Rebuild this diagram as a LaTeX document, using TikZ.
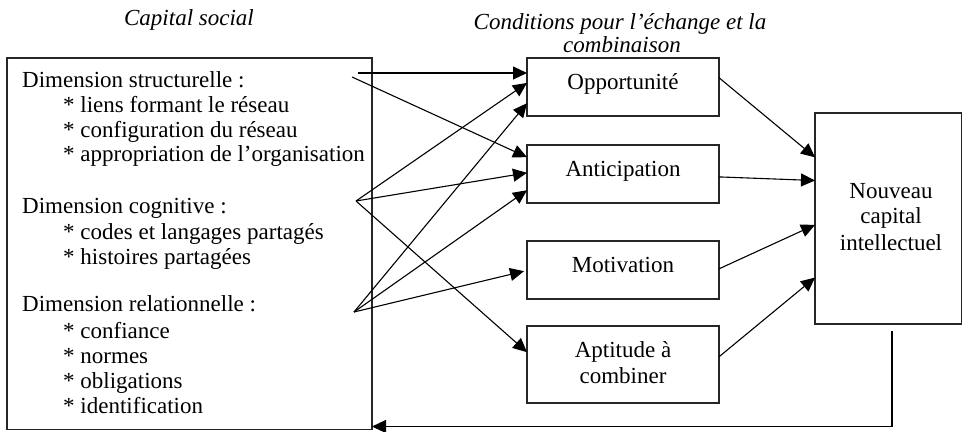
\documentclass[tikz,border=0pt]{standalone}
\usepackage{fontspec}
\setmainfont{Liberation Serif}
\usetikzlibrary{arrows.meta,calc}
\begin{document}
\begin{tikzpicture}[x=1pt,y=-1pt,
  box/.style={draw=black!85,line width=1.1pt,rectangle,inner sep=0pt,outer sep=0pt},
  lbl/.style={inner sep=0pt,font=\fontsize{23}{25}\selectfont},
  ttl/.style={inner sep=0pt,font=\fontsize{23}{25}\selectfont\itshape},
  arr/.style={line width=1.1pt,-{Triangle[length=14pt,width=13pt]}}]
\useasboundingbox (0,0) rectangle (963,431);
% titles
\node[ttl,anchor=base] (t1) at (189,25) {Capital social};
\node[ttl,anchor=base] (t2) at (620,29) {Conditions pour l’échange et la};
\node[ttl,anchor=base] (t3) at (622,52) {combinaison};
% left box
\node[box,anchor=north west,minimum width=365pt,minimum height=371.5pt] (left) at (7,58) {};
\node[lbl,anchor=base west] (a1) at (22,87) {Dimension structurelle :};
\node[lbl,anchor=base west] (a2) at (63,112) {* liens formant le réseau};
\node[lbl,anchor=base west] (a3) at (63,137) {* configuration du réseau};
\node[lbl,anchor=base west] (a4) at (63,161) {* appropriation de l’organisation};
\node[lbl,anchor=base west] (b1) at (22,213) {Dimension cognitive :};
\node[lbl,anchor=base west] (b2) at (63,239) {* codes et langages partagés};
\node[lbl,anchor=base west] (b3) at (63,264) {* histoires partagées};
\node[lbl,anchor=base west] (c1) at (22,311) {Dimension relationnelle :};
\node[lbl,anchor=base west] (c2) at (63,338) {* confiance};
\node[lbl,anchor=base west] (c3) at (63,363) {* normes};
\node[lbl,anchor=base west] (c4) at (63,388) {* obligations};
\node[lbl,anchor=base west] (c5) at (63,413) {* identification};
% middle boxes
\node[box,anchor=north west,minimum width=192pt,minimum height=58pt] (opp) at (527,58) {};
\node[box,anchor=north west,minimum width=192pt,minimum height=58pt] (ant) at (527,145) {};
\node[box,anchor=north west,minimum width=192pt,minimum height=58pt] (mot) at (527,241) {};
\node[box,anchor=north west,minimum width=192pt,minimum height=77pt] (apt) at (527,326) {};
\node[lbl,anchor=base] (oppt) at ($(opp.north)+(0,31)$) {Opportunité};
\node[lbl,anchor=base] (antt) at ($(ant.north)+(0,31)$) {Anticipation};
\node[lbl,anchor=base] (mott) at ($(mot.north)+(0,31)$) {Motivation};
\node[lbl,anchor=base] (aptt1) at ($(apt.north)+(0,31)$) {Aptitude à};
\node[lbl,anchor=base] (aptt2) at ($(apt.north)+(0,57)$) {combiner};
% right box
\node[box,anchor=north west,minimum width=146.5pt,minimum height=211pt] (nv) at (815,113) {};
\node[lbl,anchor=base] (n1) at (891,198) {Nouveau};
\node[lbl,anchor=base] (n2) at (891,223) {capital};
\node[lbl,anchor=base] (n3) at (891,250) {intellectuel};
% sources
\coordinate (sA) at (358,73);
\coordinate (sB) at (352,77);
\coordinate (cg) at (356,201);
\coordinate (rl) at (354,312);
\coordinate (fb) at (892,331);
% arrows into middle boxes
\draw[arr] (sA) -- (sA -| opp.west);
\draw[arr] (sB) -- ($(ant.north west)!0.21!(ant.south west)$);
\draw[arr] (cg) -- ($(opp.north west)!0.43!(opp.south west)$);
\draw[arr] (cg) -- ($(ant.north west)!0.48!(ant.south west)$);
\draw[arr] (cg) -- ($(apt.north west)!0.34!(apt.south west)$);
\draw[arr] (rl) -- ($(opp.north west)!0.78!(opp.south west)$);
\draw[arr] (rl) -- ($(ant.north west)!0.78!(ant.south west)$);
\draw[arr] (rl) -- ($(mot.north west)!0.52!(mot.south west)+(-3,0)$);
% arrows into right box
\draw[arr] ($(opp.north east)!0.34!(opp.south east)$) -- ($(nv.north west)!0.21!(nv.south west)$);
\draw[arr] ($(ant.north east)!0.55!(ant.south east)$) -- ($(nv.north west)!0.32!(nv.south west)$);
\draw[arr] ($(mot.north east)!0.48!(mot.south east)$) -- ($(nv.north west)!0.53!(nv.south west)$);
\draw[arr] ($(apt.north east)!0.40!(apt.south east)$) -- ($(nv.north west)!0.78!(nv.south west)$);
% feedback
\draw[arr] (fb) |- ($(left.south east)+(0,-3)$);
\end{tikzpicture}
\end{document}
